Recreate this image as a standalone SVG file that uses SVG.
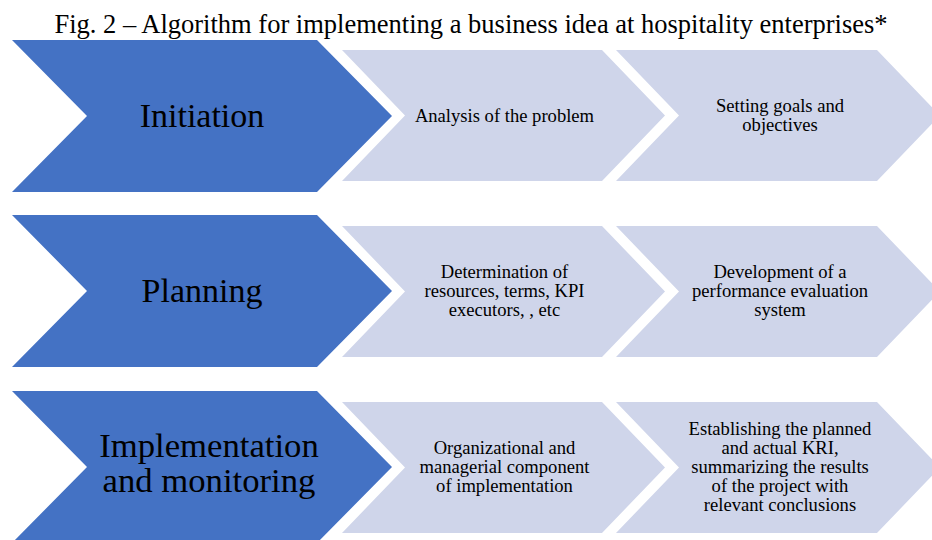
<svg xmlns="http://www.w3.org/2000/svg" width="932" height="540" viewBox="0 0 932 540">
<style>
.title{font-family:"Liberation Serif","Times New Roman",serif;font-size:26.5px;fill:#000;text-anchor:middle}
.main{fill:#4472C4}
.sub{fill:#CFD5EA}
.mt{font-family:"Liberation Serif","Times New Roman",serif;font-size:34px;fill:#000;text-anchor:middle}
.st{font-family:"Liberation Serif","Times New Roman",serif;font-size:18.6px;fill:#000;text-anchor:middle}
</style>
<rect width="932" height="540" fill="#fff"/>
<text class="title" x="471" y="33">Fig. 2 – Algorithm for implementing a business idea at hospitality enterprises*</text>
<g id="initiation">
<polygon class="main" points="12,40 317,40 392,116 317,192 12,192 87,116"/>
<text class="mt" x="202" y="127">Initiation</text>
</g>
<g id="analysis">
<polygon class="sub" points="342,50 602,50 665,115.5 602,181 342,181 405,115.5"/>
<text class="st" x="504.5" y="122">Analysis of the problem</text>
</g>
<g id="goals">
<polygon class="sub" points="616,50 877,50 940,115.5 877,181 616,181 679,115.5"/>
<text class="st" x="780" y="112">Setting goals and</text>
<text class="st" x="780" y="131">objectives</text>
</g>
<g id="planning">
<polygon class="main" points="12,215 317,215 392,291 317,367 12,367 87,291"/>
<text class="mt" x="202" y="302">Planning</text>
</g>
<g id="resources">
<polygon class="sub" points="342,226 602,226 665,291.5 602,357 342,357 405,291.5"/>
<text class="st" x="504.5" y="278">Determination of</text>
<text class="st" x="504.5" y="297">resources, terms, KPI</text>
<text class="st" x="504.5" y="316">executors, , etc</text>
</g>
<g id="evaluation">
<polygon class="sub" points="616,226 877,226 940,291.5 877,357 616,357 679,291.5"/>
<text class="st" x="780" y="278">Development of a</text>
<text class="st" x="780" y="297">performance evaluation</text>
<text class="st" x="780" y="316">system</text>
</g>
<g id="implementation">
<polygon class="main" points="12,391 317,391 392,467 317,543 12,543 87,467"/>
<text class="mt" x="209" y="457" style="font-size:34.7px">Implementation</text>
<text class="mt" x="209" y="492" style="font-size:34.7px">and monitoring</text>
</g>
<g id="organizational">
<polygon class="sub" points="342,402 602,402 665,467.5 602,533 342,533 405,467.5"/>
<text class="st" x="504.5" y="454">Organizational and</text>
<text class="st" x="504.5" y="473">managerial component</text>
<text class="st" x="504.5" y="492">of implementation</text>
</g>
<g id="kri">
<polygon class="sub" points="616,402 877,402 940,467.5 877,533 616,533 679,467.5"/>
<text class="st" x="780" y="435">Establishing the planned</text>
<text class="st" x="780" y="454">and actual KRI,</text>
<text class="st" x="780" y="473">summarizing the results</text>
<text class="st" x="780" y="492">of the project with</text>
<text class="st" x="780" y="511">relevant conclusions</text>
</g>
<g id="connectors"></g>
</svg>
